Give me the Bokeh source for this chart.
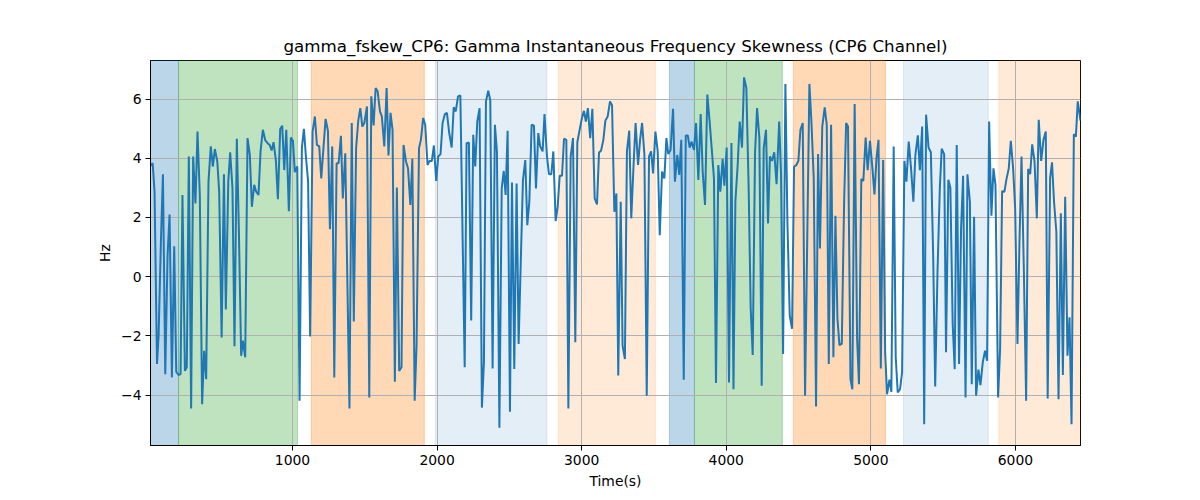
from bokeh.plotting import figure
from bokeh.models import Range1d, BoxAnnotation, FixedTicker
from bokeh.embed import file_html
from bokeh.resources import INLINE

time_s = [18, 33, 46, 63, 74, 90, 104, 120, 136, 150, 166, 182, 196, 212, 226, 239, 256, 269, 283, 299,
          313, 329, 343, 359, 375, 389, 403, 419, 435, 449, 463, 480, 493, 510, 526, 539, 556, 569, 585, 599,
          615, 629, 645, 657, 673, 689, 705, 719, 735, 749, 765, 779, 795, 812, 828, 842, 856, 869, 885, 899,
          915, 929, 943, 957, 975, 989, 1003, 1016, 1033, 1049, 1065, 1079, 1092, 1108, 1122, 1139, 1155, 1169, 1185, 1199,
          1215, 1229, 1245, 1259, 1275, 1289, 1305, 1319, 1335, 1348, 1365, 1394, 1410, 1424, 1440, 1455, 1469, 1483, 1497, 1515,
          1531, 1545, 1561, 1575, 1589, 1605, 1618, 1635, 1651, 1664, 1678, 1692, 1708, 1722, 1738, 1754, 1768, 1785, 1799, 1815,
          1829, 1845, 1858, 1875, 1888, 1904, 1918, 1934, 1948, 1964, 1978, 1994, 2008, 2024, 2038, 2054, 2068, 2084, 2101, 2115,
          2129, 2145, 2161, 2191, 2204, 2220, 2236, 2250, 2264, 2278, 2294, 2310, 2324, 2338, 2354, 2368, 2384, 2400, 2414, 2431,
          2447, 2461, 2474, 2488, 2504, 2518, 2534, 2550, 2564, 2580, 2594, 2610, 2624, 2638, 2654, 2670, 2684, 2700, 2713, 2730,
          2743, 2760, 2774, 2790, 2804, 2820, 2834, 2848, 2864, 2878, 2894, 2908, 2924, 2940, 2956, 2970, 2986, 3002, 3016, 3029,
          3043, 3059, 3074, 3090, 3106, 3120, 3134, 3150, 3164, 3180, 3196, 3210, 3226, 3240, 3253, 3270, 3283, 3299, 3313, 3329,
          3343, 3359, 3373, 3390, 3404, 3418, 3434, 3450, 3466, 3480, 3494, 3510, 3526, 3540, 3556, 3572, 3586, 3599, 3615, 3632,
          3645, 3661, 3675, 3689, 3706, 3720, 3734, 3747, 3761, 3777, 3791, 3807, 3823, 3837, 3853, 3869, 3885, 3901, 3915, 3929,
          3945, 3959, 3975, 3987, 4003, 4019, 4036, 4050, 4063, 4079, 4093, 4109, 4123, 4139, 4155, 4169, 4183, 4199, 4213, 4229,
          4245, 4259, 4275, 4289, 4302, 4316, 4332, 4348, 4366, 4379, 4393, 4409, 4423, 4439, 4455, 4469, 4485, 4499, 4513, 4529,
          4545, 4575, 4589, 4605, 4621, 4635, 4648, 4664, 4681, 4695, 4709, 4725, 4741, 4755, 4769, 4783, 4799, 4815, 4829, 4842,
          4859, 4872, 4888, 4905, 4918, 4934, 4948, 4964, 4978, 4994, 5009, 5025, 5039, 5053, 5069, 5085, 5099, 5112, 5129, 5142,
          5158, 5172, 5186, 5202, 5216, 5232, 5246, 5262, 5278, 5294, 5308, 5325, 5339, 5355, 5369, 5382, 5399, 5415, 5431, 5445,
          5461, 5477, 5490, 5507, 5520, 5536, 5550, 5566, 5580, 5594, 5610, 5624, 5638, 5655, 5668, 5685, 5698, 5714, 5728, 5744,
          5758, 5774, 5790, 5804, 5818, 5834, 5848, 5862, 5880, 5894, 5908, 5924, 5937, 5954, 5968, 5984, 5998, 6014, 6028, 6042,
          6058, 6074, 6088, 6102, 6116, 6132, 6148, 6161, 6178, 6194, 6210, 6223, 6240, 6253, 6267, 6283, 6298, 6314, 6328, 6344,
          6360, 6374, 6388, 6404, 6418, 6431, 6450]

skew_hz = [3.75, 3.83, 2.87, -2.95, -1.99, 1.18, 3.46, -3.29, 0.72, 2.10, -3.40, 1.03, -3.21, -3.32, -3.29, 2.76, -3.18, -3.06, 4.06, -4.45,
           4.06, 2.47, 4.90, 2.76, -4.31, -2.50, -3.46, 3.21, 4.40, 3.72, 4.31, 3.89, 2.87, -2.05, 3.46, -1.11, 3.21, 4.20, 2.98, -2.35,
           4.66, 1.63, -2.67, -2.16, -2.72, 4.68, 4.11, 2.36, 3.10, 2.87, 2.76, 4.23, 4.96, 4.60, 4.51, 4.45, 4.26, 4.54, 3.94, 2.62,
           4.99, 5.10, 3.60, 4.96, 2.21, 4.70, 4.59, 3.53, 3.72, -4.19, 4.36, 4.99, 4.11, 3.21, -2.02, 4.90, 5.41, 4.45, 4.40, 3.32,
           4.40, 5.33, 4.93, 1.60, 4.40, -3.40, 3.83, 3.83, 4.76, 2.64, 4.17, -4.45, 5.19, -1.51, 4.34, 5.27, 5.69, 5.07, 5.19, 5.75,
           -4.08, 6.09, 5.11, 6.37, 6.26, 5.58, 5.41, 4.40, 6.37, 4.09, 5.53, 4.96, -3.55, 3.01, -3.18, -3.06, 4.45, 3.89, 3.66, 2.42,
           3.98, -4.19, -2.33, 4.34, 4.62, 5.36, 5.13, 3.77, 3.91, 3.91, 4.43, 3.23, 4.06, 4.14, 5.19, 5.49, 5.53, 4.85, 4.36, 5.72,
           5.58, 6.09, 6.12, -3.06, 4.51, 4.53, -1.48, 4.79, 3.72, 5.24, 5.69, -4.42, -2.89, 5.92, 6.28, 5.95, -3.10, 5.13, 4.23, -5.10,
           2.98, 3.57, 2.76, 4.93, -4.56, 3.18, -3.12, 3.15, -2.27, 0.72, 3.27, 3.94, 1.74, 2.53, 5.13, 5.10, 2.98, 4.85, 4.40, 4.23,
           5.49, 4.06, 3.46, 3.46, 4.23, 1.88, 2.36, 3.41, 3.41, 4.66, 4.62, -4.45, 4.06, 4.68, -2.21, 4.54, 4.96, 5.36, 5.60, 5.24,
           5.69, 4.68, 5.67, 2.64, 2.44, 4.19, 4.25, 4.62, 5.27, 5.41, 5.92, 5.79, 2.19, 2.81, -3.34, 2.53, -2.33, -2.78, 4.23, 4.93,
           1.97, 3.77, 5.19, 3.77, 4.62, 5.19, 4.11, -4.02, 4.06, 4.23, 3.49, 4.90, 4.23, 1.40, 3.55, 3.32, 4.68, 4.14, 4.28, 5.67,
           3.21, 4.11, 3.44, 4.62, -3.48, 4.77, 4.77, 4.36, 4.56, 4.28, 5.19, 3.27, 5.49, 3.55, 2.42, 6.15, 5.24, 4.23, 3.32, -3.59,
           3.77, 2.87, 3.98, 3.07, 4.36, -3.57, 4.51, -3.80, 2.53, 3.77, 5.24, 4.36, 6.73, 6.37, 2.98, -1.08, -2.64, 4.17, 5.69, 4.68,
           -3.68, 4.34, 4.96, 1.80, 4.06, 3.91, 4.20, 3.12, 5.24, 3.44, -2.61, 6.51, 1.85, -1.31, -1.76, 3.72, 3.77, 3.91, 4.96, 5.19,
           -4.02, 6.51, 5.24, 3.32, -4.38, 4.14, 0.95, 5.07, 5.72, 5.13, -2.95, 5.13, -2.72, 2.06, -1.42, -2.31, -2.27, 2.47, 5.19, 5.07,
           -3.46, -3.80, 5.83, -2.10, -3.63, 3.30, 3.23, 4.70, 3.60, 4.59, 3.77, 2.78, 4.00, 4.62, -3.10, 3.94, -2.55, -3.97, -3.48, -3.89,
           4.40, -2.72, -3.91, -3.80, -3.23, 3.91, 3.21, 4.56, 3.66, 2.53, 4.11, 4.77, 3.60, 5.07, -4.98, 5.47, 4.36, 4.20, 0.72, -3.71,
           0.16, 2.98, 4.32, 4.14, -2.55, 3.27, 3.00, -1.60, -3.12, 4.45, -2.95, 1.63, 3.41, -4.08, 3.46, 2.53, -3.63, 2.02, -4.02, -3.14,
           -3.66, -2.89, -2.50, -2.84, 5.24, 2.06, 3.66, 3.10, -4.08, -2.44, 2.89, 2.87, 3.27, 3.66, 4.59, 3.66, 2.31, -2.27, 1.18, 4.06,
           0.27, -4.19, 3.64, 3.46, 4.47, 3.89, 1.97, 5.30, 3.91, 4.62, 4.90, -4.11, 3.34, 3.86, 2.53, 1.51, -4.14, 2.14, -3.32, 2.70,
           -2.67, -1.37, -4.98, 4.81, 4.73, 5.92, 5.27]

region_start = [18, 212, 1130, 1988, 2838, 3607, 3780, 4464, 5226, 5885]
region_end = [212, 1035, 1912, 2760, 3510, 3780, 4388, 5101, 5812, 6450]
region_color = ["#1f77b4", "#2ca02c", "#ff7f0e", "#1f77b4", "#ff7f0e",
                "#1f77b4", "#2ca02c", "#ff7f0e", "#1f77b4", "#ff7f0e"]
region_alpha = [0.3, 0.3, 0.3, 0.12, 0.16, 0.3, 0.3, 0.3, 0.12, 0.16]

x_ticks = [1000, 2000, 3000, 4000, 5000, 6000]
y_ticks = [-4, -2, 0, 2, 4, 6]

FONT = "DejaVu Sans"

p = figure(frame_width=930, frame_height=385,
           min_border_left=150, min_border_right=112, min_border_top=60, min_border_bottom=47,
           x_range=Range1d(time_s[0], time_s[-1]), y_range=Range1d(-5.7, 7.3),
           output_backend="svg", toolbar_location=None,
           title="gamma_fskew_CP6: Gamma Instantaneous Frequency Skewness (CP6 Channel)")

p.title.align = "center"
p.title.text_font = FONT
p.title.text_font_size = "16.7px"
p.title.text_font_style = "normal"
p.title.text_color = "black"

for s, e, c, a in zip(region_start, region_end, region_color, region_alpha):
    box = BoxAnnotation(left=s, right=e, fill_color=c, fill_alpha=a,
                        line_color=c, line_alpha=a, line_width=1, level="image")
    p.add_layout(box)

p.line(time_s, skew_hz, line_color="#1f77b4", line_width=2)

p.xaxis.ticker = FixedTicker(ticks=x_ticks)
p.yaxis.ticker = FixedTicker(ticks=y_ticks)
p.xaxis.axis_label = "Time(s)"
p.yaxis.axis_label = "Hz"
for ax in (p.xaxis, p.yaxis):
    ax.axis_label_text_font = FONT
    ax.axis_label_text_font_size = "13.9px"
    ax.axis_label_text_font_style = "normal"
    ax.axis_label_text_color = "black"
    ax.major_label_text_font = FONT
    ax.major_label_text_font_size = "13.9px"
    ax.major_label_text_color = "black"
    ax.axis_line_color = "black"
    ax.axis_line_width = 1
    ax.major_tick_line_color = "black"
    ax.major_tick_out = 5
    ax.major_tick_in = 0
    ax.minor_tick_line_color = None
    ax.major_label_standoff = 4
    ax.axis_label_standoff = 5
p.yaxis.major_label_orientation = "horizontal"

p.xgrid.grid_line_color = "#b0b0b0"
p.ygrid.grid_line_color = "#b0b0b0"
p.xgrid.grid_line_width = 1
p.ygrid.grid_line_width = 1

p.outline_line_color = "black"
p.outline_line_width = 1
p.outline_line_alpha = 1
p.background_fill_color = "white"
p.border_fill_color = "white"

open("out.html", "w").write(file_html(p, INLINE))
